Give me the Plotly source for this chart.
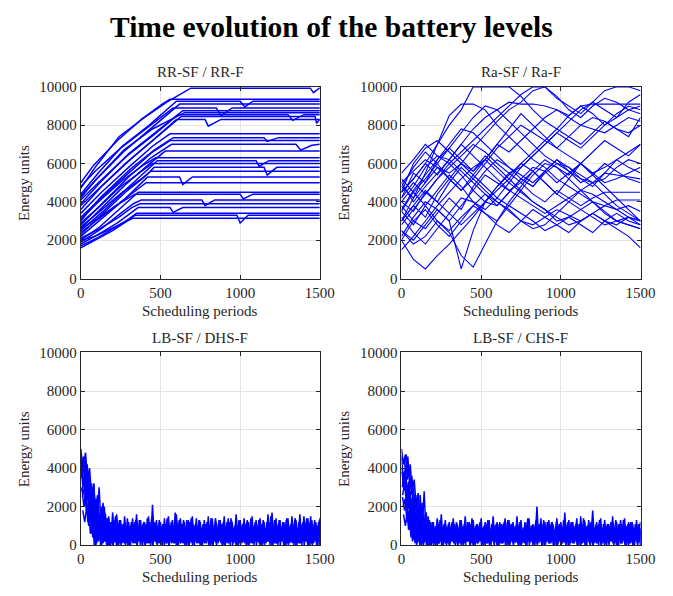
import numpy as np
import plotly.graph_objects as go

# ---------------- DATA ----------------
panel_titles = ["RR-SF / RR-F", "Ra-SF / Ra-F", "LB-SF / DHS-F", "LB-SF / CHS-F"]
x_ticks = [0, 500, 1000, 1500]
y_ticks = [0, 2000, 4000, 6000, 8000, 10000]
y_tick_text = ["0", "2000", "4000", "6000", "8000", "10000"]

rr_lines = [
    ([0, 90, 240, 400, 540, 690, 1440, 1460, 1500], [4700, 5800, 7400, 8400, 9200, 9930, 9930, 9700, 9950]),
    ([0, 80, 230, 380, 520, 560, 1500], [5000, 5900, 7200, 8300, 9150, 9350, 9350]),
    ([0, 110, 260, 430, 600, 1000, 1030, 1080, 1500], [4400, 5500, 6900, 8000, 9250, 9250, 8950, 9250, 9250]),
    ([0, 100, 280, 450, 620, 1500], [4200, 5200, 6700, 7900, 9100, 9100]),
    ([0, 90, 250, 420, 580, 850, 880, 950, 1500], [4800, 5600, 6800, 7900, 8900, 8900, 8500, 8900, 8900]),
    ([0, 120, 300, 480, 640, 1500], [3900, 5000, 6500, 7700, 8750, 8750]),
    ([0, 110, 290, 460, 610, 1300, 1330, 1400, 1500], [4100, 5000, 6400, 7500, 8550, 8550, 8250, 8550, 8550]),
    ([0, 130, 310, 480, 630, 1470, 1480, 1500], [3600, 4800, 6200, 7400, 8450, 8450, 8100, 8300]),
    ([0, 100, 280, 450, 600, 780, 800, 880, 1500], [3800, 4600, 6000, 7200, 8300, 8300, 7950, 8300, 8300]),
    ([0, 130, 300, 450, 560, 1500], [3400, 4500, 5800, 6900, 7550, 7550]),
    ([0, 120, 310, 460, 580, 1150, 1170, 1240, 1500], [3000, 4200, 5700, 6700, 7350, 7350, 7150, 7350, 7350]),
    ([0, 140, 300, 450, 560, 1500], [3200, 4300, 5500, 6600, 7200, 7200]),
    ([0, 130, 300, 440, 570, 1350, 1380, 1450, 1500], [2800, 3900, 5300, 6300, 7000, 7000, 6700, 6950, 7000]),
    ([0, 120, 280, 420, 530, 1500], [2600, 3600, 4900, 5900, 6650, 6650]),
    ([0, 110, 260, 390, 470, 1500], [3100, 4000, 5100, 5900, 6300, 6300]),
    ([0, 140, 290, 410, 480, 1100, 1120, 1180, 1500], [2500, 3500, 4700, 5600, 6150, 6150, 5850, 6150, 6150]),
    ([0, 110, 250, 380, 450, 1500], [2900, 3700, 4800, 5600, 6000, 6000]),
    ([0, 130, 280, 400, 460, 1150, 1170, 1230, 1500], [2300, 3300, 4500, 5300, 5800, 5800, 5400, 5800, 5800]),
    ([0, 120, 260, 380, 440, 1500], [2700, 3500, 4500, 5200, 5600, 5600]),
    ([0, 130, 270, 370, 420, 620, 640, 700, 1500], [2200, 3100, 4100, 4900, 5300, 5300, 4900, 5300, 5300]),
    ([0, 110, 250, 350, 410, 1500], [2400, 3100, 4000, 4600, 5000, 5000]),
    ([0, 120, 240, 320, 360, 1500], [2000, 2700, 3600, 4200, 4500, 4500]),
    ([0, 100, 220, 300, 340, 1000, 1020, 1080, 1500], [2600, 3100, 3800, 4200, 4400, 4400, 4150, 4400, 4400]),
    ([0, 130, 250, 330, 380, 760, 780, 840, 1500], [1900, 2600, 3400, 3900, 4100, 4100, 3800, 4100, 4100]),
    ([0, 120, 240, 320, 370, 1500], [2100, 2600, 3200, 3700, 3900, 3900]),
    ([0, 110, 230, 310, 360, 560, 580, 640, 1500], [1800, 2300, 2900, 3400, 3700, 3700, 3450, 3700, 3700]),
    ([0, 100, 220, 300, 350, 1500], [1700, 2100, 2700, 3100, 3400, 3400]),
    ([0, 90, 200, 290, 340, 980, 1000, 1050, 1500], [1600, 2000, 2500, 3000, 3300, 3300, 2900, 3300, 3300]),
    ([0, 90, 190, 280, 330, 1500], [2000, 2200, 2600, 2950, 3150, 3150]),
    ([0, 110, 270, 450, 650, 1500], [4300, 5300, 6700, 7800, 8650, 8650]),
]

ra_step = 75
ra_lines = [
    [45, 52, 60, 70, 80, 88, 100, 100, 100, 100, 95, 88, 82, 78, 85, 90, 86, 80, 84, 92, 96],
    [20, 10, 5, 12, 18, 25, 32, 40, 38, 45, 52, 48, 55, 60, 58, 52, 48, 55, 62, 58, 55],
    [30, 42, 55, 70, 85, 91, 91, 88, 80, 74, 68, 62, 58, 52, 48, 44, 40, 35, 30, 28, 26],
    [40, 48, 58, 64, 62, 70, 78, 84, 88, 92, 91, 91, 90, 88, 85, 90, 91, 91, 91, 91, 91],
    [25, 18, 22, 30, 24, 12, 6, 18, 30, 40, 48, 56, 50, 44, 52, 60, 54, 48, 42, 36, 30],
    [50, 56, 62, 58, 55, 60, 68, 75, 82, 88, 92, 98, 100, 95, 88, 84, 90, 94, 92, 88, 90],
    [35, 28, 38, 46, 54, 48, 40, 34, 30, 38, 46, 54, 60, 58, 52, 46, 40, 34, 30, 32, 28],
    [15, 22, 30, 38, 45, 52, 58, 62, 56, 50, 45, 40, 36, 30, 32, 28, 24, 30, 34, 30, 28],
    [45, 60, 68, 72, 66, 60, 56, 62, 70, 78, 86, 80, 74, 68, 64, 60, 55, 58, 62, 66, 70],
    [30, 38, 32, 44, 52, 60, 54, 48, 42, 50, 58, 64, 70, 76, 82, 88, 92, 88, 84, 88, 86],
    [40, 35, 45, 40, 50, 58, 52, 46, 40, 35, 30, 26, 28, 34, 40, 46, 50, 44, 38, 34, 30],
    [20, 30, 26, 34, 42, 36, 48, 56, 62, 58, 52, 48, 56, 62, 56, 50, 54, 60, 56, 52, 50],
    [48, 58, 66, 60, 52, 46, 52, 60, 68, 74, 80, 76, 72, 68, 74, 80, 84, 82, 78, 76, 80],
    [35, 45, 38, 30, 25, 32, 38, 44, 40, 36, 30, 28, 32, 36, 33, 30, 34, 38, 36, 32, 30],
    [50, 40, 48, 55, 62, 56, 50, 44, 38, 45, 52, 58, 56, 50, 55, 60, 55, 50, 52, 55, 58],
    [28, 36, 44, 52, 58, 64, 70, 66, 60, 55, 58, 64, 70, 76, 72, 68, 74, 80, 86, 90, 88],
    [42, 50, 44, 52, 60, 54, 46, 40, 48, 55, 50, 44, 40, 46, 42, 38, 42, 45, 45, 45, 45],
    [32, 24, 18, 26, 34, 42, 40, 36, 42, 38, 34, 30, 25, 28, 32, 36, 40, 38, 41, 41, 41],
    [55, 62, 70, 64, 60, 66, 72, 78, 84, 90, 96, 100, 100, 94, 90, 86, 92, 98, 100, 100, 98],
    [38, 30, 36, 28, 22, 30, 38, 34, 28, 24, 30, 36, 32, 28, 24, 30, 34, 30, 26, 22, 16],
    [45, 52, 60, 54, 62, 70, 64, 58, 52, 46, 50, 56, 62, 58, 54, 60, 66, 72, 68, 64, 70],
    [22, 32, 40, 36, 30, 38, 46, 54, 50, 46, 42, 38, 34, 38, 42, 46, 44, 40, 36, 38, 35],
    [36, 46, 54, 62, 70, 78, 76, 70, 64, 58, 54, 50, 56, 62, 58, 54, 50, 52, 58, 62, 60],
    [48, 42, 50, 58, 52, 46, 54, 62, 70, 66, 72, 78, 84, 88, 84, 80, 78, 76, 80, 84, 82],
    [25, 20, 28, 36, 30, 5, 25, 40, 48, 54, 60, 56, 50, 44, 40, 36, 32, 28, 30, 28, 26],
    [42, 55, 50, 62, 68, 76, 84, 90, 88, 82, 76, 70, 64, 60, 56, 52, 50, 55, 54, 53, 52],
    [30, 38, 46, 40, 34, 28, 34, 40, 46, 52, 46, 40, 36, 32, 28, 30, 34, 30, 28, 32, 30],
    [52, 45, 52, 60, 68, 62, 56, 64, 58, 52, 60, 66, 72, 78, 74, 70, 76, 82, 78, 74, 84],
]

lb_step = 12.5
dhs_offsets = [0, 5, 10, 15, 20, 0, 3, 7, 2.5, 7.5, 12.5, 17.5]
dhs_lines = [
    [50,40,46,33,38,24,29,15,20,8,13,2,17,1,15,1,17,2,14,0,13,1,15,2,12,0,14,1,16,2,13,0,12,1,15,0,21,2,13,1,12,0,14,1,15,2,13,1,16,0,14,1,12,0,13,2,15,0,14,1,12,0,13,1,15,0,14,2,12,1,13,0,15,1,14,0,12,2,16,0,13,1,14,0,12,1,15,0,13,2,14,0,12,1,16,0,17,1,14,0,13,2,12,0,14,1,15,0,13,1,16,0,15,2,14,0,13,1,12,0,14,1,13],
    [35,42,28,34,20,26,10,18,4,12,0,10,3,14,0,12,2,15,1,13,3,11,0,14,2,12,1,10,0,13,2,11,0,14,1,12,3,10,0,13,1,11,2,14,0,12,1,17,0,13,2,11,1,12,0,14,2,10,1,13,0,11,2,12,1,14,0,10,2,13,1,11,0,12,3,14,1,10,0,13,2,11,1,12,0,14,1,10,2,13,0,11,1,12,2,15,0,13,1,11,2,12,0,14,1,10,2,13,0,12,1,11,2,14,0,15,1,13,0,12,2,14],
    [25,30,18,22,6,14,0,10,2,16,4,20,3,12,1,9,4,11,2,8,3,10,1,9,5,11,2,8,3,10,4,9,1,11,3,8,2,10,4,9,1,11,3,8,2,10,1,9,4,11,2,8,3,10,1,12,4,9,2,11,3,8,1,10,4,9,2,11,3,8,1,10,2,9,4,11,3,8,1,10,2,12,4,9,1,11,3,8,2,10,1,9,4,11,2,13,3,10,1,9,4,11,2,8,3,10,1,9,4,11,2,8,3,10,1,9,4,11,2,13,3],
    [45,36,42,28,32,18,24,12,30,10,22,5,14,2,12,0,10,1,8,0,11,2,9,0,10,1,12,0,9,2,11,0,8,1,10,0,12,2,9,0,11,1,8,0,10,2,12,0,9,1,11,0,13,2,10,0,9,1,11,0,8,2,10,0,12,1,9,0,11,2,8,0,10,1,12,0,9,2,11,0,10,1,8,0,12,2,9,0,11,1,10,0,8,2,12,0,9,1,11,0,10,2,13,0,9,1,11,0,8,2,10,0,12,1,9,0,11,2,10,0,12],
    [20,28,15,24,10,32,8,26,5,18,2,12,0,8,1,7,3,9,1,6,2,8,0,7,3,9,1,6,2,8,4,7,1,9,2,6,3,8,1,7,2,9,4,6,1,8,3,7,2,9,1,6,3,8,2,7,4,9,1,6,2,8,3,7,1,9,2,6,4,8,1,7,3,9,2,6,1,8,4,7,2,9,1,6,3,8,2,7,1,9,4,6,2,8,3,7,1,9,2,6,4,8,1,7,3,9,2,6,1,8,4,7,2,9,1,6,3,8],
    [48,30,40,22,34,14,26,8,20,4,15,1,12,0,14,0,12,2,16,1],
    [38,46,30,36,20,28,12,22,6,16,0,10,2,14,1,12,0,13,2,11],
    [30,20,26,12,18,6,10,0,8,14,4,18,2,12,0,10,1,14,0,12],
    [40,32,36,24,30,16,22,8,14,3,10,1,9,3,8,5,10,4,7,2,9,5,8,3,10,4,7,2,9,6,8,3,11,4,7,2,9,5,8,3,10,4,7,1,9,5,8,3,12,4,7,2,9,5,8,3,11,4,6,2,9,5,8,3,10,4,7,2,9,5,8,3,10,4,7,2,9,6,8,3,11,4,7,2,9,5,8,3,10,4,7,2,9,5,8,3,12,4,7,2,9,5,8,3,11,4,7,2,9,5,8,3,10,4,7,2,9,6,8,3,10],
    [28,34,22,28,14,20,6,24,10,16,4,12,2,10,5,12,6,11,4,13,6,10,5,12,7,11,4,13,6,10,5,12,6,11,4,14,6,10,5,12,6,11,4,13,7,10,5,12,6,11,4,13,6,10,5,12,6,11,4,13,6,10,5,12,6,11,4,14,6,10,5,12,6,11,4,13,6,10,5,12,7,11,4,13,6,10,5,12,6,11,4,13,6,10,5,12,6,11,4,13,6,10,5,12,6,11,4,14,6,10,5,12,6,11,4,13,6,10,5,12],
    [18,12,20,10,16,4,12,1,8,0,6,2,5,0,6,1,5,0,7,2,5,1,6,0,5,2,7,1,6,0,5,1,7,2,6,0,5,1,6,2,7,0,5,1,6,2,5,0,7,1,6,2,5,0,6,1,7,2,5,0,6,1,5,2,7,0,6,1,5,2,6,0,7,1,5,2,6,0,5,1,7,2,6,0,5,1,6,2,7,0,5,1,6,2,5,0,7,1,6,2,5,0,6,1,7,2,5,0,6,1,5,2,7,0,6,1,5,2,6,0,7],
    [42,48,34,40,26,32,18,26,10,20,6,16,2,11,4,9,2,12,5,8,3,10,6,9,2,11,4,8,3,10,6,9,2,12,5,8,3,10,4,9,2,11,6,8,3,10,4,9,2,11,5,8,3,12,4,9,2,10,6,8,3,11,4,9,2,10,5,8,3,11,4,9,2,12,6,8,3,10,4,9,2,11,5,8,3,10,4,9,2,11,6,8,3,12,4,9,2,10,5,8,3,11,4,9,2,10,6,8,3,11,4,9,2,12,5,8,3,10,4,9,2],
]
chs_offsets = [0, 5, 10, 15, 20, 0, 3, 7, 2.5, 7.5, 12.5, 17.5]
chs_lines = [
    [50,42,47,34,40,26,30,18,24,10,16,4,14,1,13,0,12,2,14,1,16,0,13,1,12,2,14,0,11,1,13,0,15,2,12,1,13,0,11,2,14,0,12,1,13,0,15,2,12,0,11,1,14,0,13,2,12,1,15,0,13,1,12,0,14,2,11,0,20,1,14,0,12,2,13,1,11,0,14,2,12,1,17,0,13,1,12,2,14,0,15,1,12,0,13,2,18,1,12,0,14,1,13,0,11,2,15,1,12,0,13,2,14,0,12,1,11,0,13,2,12],
    [30,38,24,30,14,22,6,16,2,26,8,28,4,15,0,12,1,10,3,13,0,11,2,9,1,12,3,10,0,13,1,9,2,11,0,14,3,10,1,12,0,9,2,13,1,11,3,10,0,12,2,9,1,13,0,11,3,10,1,12,2,9,0,14,1,10,3,12,2,11,0,13,1,9,2,12,3,10,0,11,1,13,2,9,0,12,3,10,1,11,2,14,0,10,1,12,3,9,2,13,0,11,1,10,3,12,2,9,0,11,1,13,2,10,3,12,0,11,1,9,2],
    [20,24,12,18,4,14,1,10,3,12,1,9,4,11,2,8,3,10,1,9,5,11,2,8,3,10,4,9,1,11,3,8,2,10,4,9,1,11,3,8,2,10,1,9,4,11,2,8,3,10,1,12,4,9,2,11,3,8,1,10,4,9,2,11,3,8,1,10,2,9,4,11,3,8,1,10,2,12,4,9,1,11,3,8,2,10,1,9,4,11,2,13,3,10,1,9,4,11,2,8,3,10,1,9,4,11,2,8,3,10,1,9,4,11,2,12,3],
    [45,38,46,30,36,20,26,14,22,8,16,3,12,1,10,0,9,1,8,0,10,2,9,0,11,1,8,0,10,2,9,0,12,1,8,0,10,2,11,0,9,1,12,0,8,2,10,0,11,1,9,0,12,2,8,0,10,1,11,0,9,2,12,0,10,1,8,0,11,2,9,0,12,1,10,0,8,2,11,0,9,1,10,0,12,2,8,0,11,1,9,0,10,2,12,0,8,1,11,0,9,2,10,0,12,1,8,0,11,2,9,0,10,1,12,0,9,2,11,0,10],
    [35,28,33,20,26,12,20,6,14,2,9,0,6,1,7,3,8,1,6,2,7,0,8,3,6,1,7,2,9,1,6,3,8,0,7,2,6,1,8,3,7,1,9,2,6,0,8,3,7,1,6,2,9,1,7,3,8,0,6,2,7,1,9,3,8,1,6,2,7,0,9,3,6,1,8,2,7,1,6,3,9,0,7,2,8,1,6,3,7,1,9,2,8,0,6,3,7,1,8,2,9,1,6,3,7,0,8,2,6,1,9,3,7,1,8,2,6,0,7,3,9],
    [46,34,40,24,30,16,22,10,16,4,10,0,8,1,12,0,10,2,13,1],
    [40,30,36,18,28,10,20,4,12,0,6,2,10,0,12,1,9,0,11,2],
    [25,18,22,8,14,2,8,0,6,12,3,10,1,8,0,11,2,9,1,10],
    [38,30,34,22,28,14,20,7,12,2,9,1,8,3,7,5,9,4,6,2,8,5,7,3,9,4,6,2,8,6,7,3,10,4,6,2,8,5,7,3,9,4,6,1,8,5,7,3,11,4,6,2,8,5,7,3,10,4,6,2,8,5,7,3,9,4,6,2,8,5,7,3,9,4,6,2,8,6,7,3,10,4,6,2,8,5,7,3,9,4,6,2,8,5,7,3,11,4,6,2,8,5,7,3,10,4,6,2,8,5,7,3,9,4,6,2,8,6,7,3,9],
    [26,32,20,27,12,18,5,22,8,14,3,11,2,9,5,11,6,10,4,12,6,9,5,11,7,10,4,12,6,9,5,11,6,10,4,13,6,9,5,11,6,10,4,12,7,9,5,11,6,10,4,12,6,9,5,11,6,10,4,12,6,9,5,11,6,10,4,13,6,9,5,11,6,10,4,12,6,9,5,11,7,10,4,12,6,9,5,11,6,10,4,12,6,9,5,11,6,10,4,12,6,9,5,11,6,10,4,13,6,9,5,11,6,10,4,12,6,9,5,11],
    [16,10,18,8,14,3,10,1,7,0,5,2,6,0,5,1,6,0,7,2,5,1,6,0,5,2,7,1,6,0,5,1,7,2,6,0,5,1,6,2,7,0,5,1,6,2,5,0,7,1,6,2,5,0,6,1,7,2,5,0,6,1,5,2,7,0,6,1,5,2,6,0,7,1,5,2,6,0,5,1,7,2,6,0,5,1,6,2,7,0,5,1,6,2,5,0,7,1,6,2,5,0,6,1,7,2,5,0,6,1,5,2,7,0,6,1,5,2,6,0,7],
    [44,47,36,42,28,34,20,27,12,22,8,17,3,12,4,9,2,11,5,8,3,10,6,9,2,11,4,8,3,10,6,9,2,11,5,8,3,10,4,9,2,11,6,8,3,10,4,9,2,11,5,8,3,11,4,9,2,10,6,8,3,11,4,9,2,10,5,8,3,11,4,9,2,11,6,8,3,10,4,9,2,11,5,8,3,10,4,9,2,11,6,8,3,11,4,9,2,10,5,8,3,11,4,9,2,10,6,8,3,11,4,9,2,11,5,8,3,10,4,9,2],
]

# ---------------- FIGURE ----------------
W, H = 673, 596
BLUE = "#0000ff"
FONT = "Liberation Serif"
TXT = "#262626"

areas = [(79, 325, 81, 278), (409, 655, 81, 278), (79, 325, 354, 552), (409, 655, 354, 552)]
widths = [1.5, 1.1, 1.5, 1.5]

fig = go.Figure()

def add_line(k, xs, ys):
    fig.add_trace(go.Scatter(x=xs, y=ys, mode="lines",
                             line=dict(color=BLUE, width=widths[k]),
                             xaxis="x" if k == 0 else f"x{k+1}",
                             yaxis="y" if k == 0 else f"y{k+1}",
                             showlegend=False, hoverinfo="skip"))

for xs, ys in rr_lines:
    add_line(0, xs, ys)
for ys in ra_lines:
    add_line(1, [ra_step * i for i in range(len(ys))], [v * 100 for v in ys])
for off, ys in zip(dhs_offsets, dhs_lines):
    add_line(2, [off + lb_step * i for i in range(len(ys))], [v * 100 for v in ys])
for off, ys in zip(chs_offsets, chs_lines):
    add_line(3, [off + lb_step * i for i in range(len(ys))], [v * 100 for v in ys])

layout = dict(width=W, height=H, margin=dict(l=0, r=0, t=0, b=0),
              paper_bgcolor="white", plot_bgcolor="white",
              font=dict(family=FONT, color=TXT, size=15))
annotations = []
for k, (l, r, t, b) in enumerate(areas):
    sx = "" if k == 0 else str(k + 1)
    axcommon = dict(showline=True, linecolor=TXT, linewidth=1, mirror="ticks",
                    ticks="inside", ticklen=4, tickcolor=TXT,
                    showgrid=True, gridcolor="#e3e3e3", gridwidth=1,
                    zeroline=False, tickfont=dict(family=FONT, size=15, color=TXT))
    layout["xaxis" + sx] = dict(domain=[l / W, r / W], range=[0, 1500], tickvals=x_ticks,
                                anchor="y" + sx, **axcommon)
    layout["yaxis" + sx] = dict(domain=[1 - b / H, 1 - t / H], range=[0, 10000], tickvals=y_ticks,
                                ticktext=y_tick_text, anchor="x" + sx, **axcommon)
    cx = (l + r) / 2 / W
    annotations.append(dict(text=panel_titles[k], x=cx, y=1 - (t - 15) / H, xref="paper", yref="paper",
                            showarrow=False, xanchor="center", yanchor="middle",
                            font=dict(family=FONT, size=15, color=TXT)))
    annotations.append(dict(text="Scheduling periods", x=cx, y=1 - (b + 33) / H, xref="paper", yref="paper",
                            showarrow=False, xanchor="center", yanchor="middle",
                            font=dict(family=FONT, size=15, color=TXT)))
    annotations.append(dict(text="Energy units", x=(l - 59) / W, y=1 - (t + b) / 2 / H, xref="paper", yref="paper",
                            showarrow=False, xanchor="center", yanchor="middle", textangle=-90,
                            font=dict(family=FONT, size=15, color=TXT)))

annotations.append(dict(text="<b>Time evolution of the battery levels</b>", x=0.5, y=1 - 20 / H,
                        xref="paper", yref="paper", showarrow=False, xanchor="center", yanchor="middle",
                        font=dict(family=FONT, size=29.5, color="black")))
layout["annotations"] = annotations
fig.update_layout(**layout)
fig.write_html("out.html")
